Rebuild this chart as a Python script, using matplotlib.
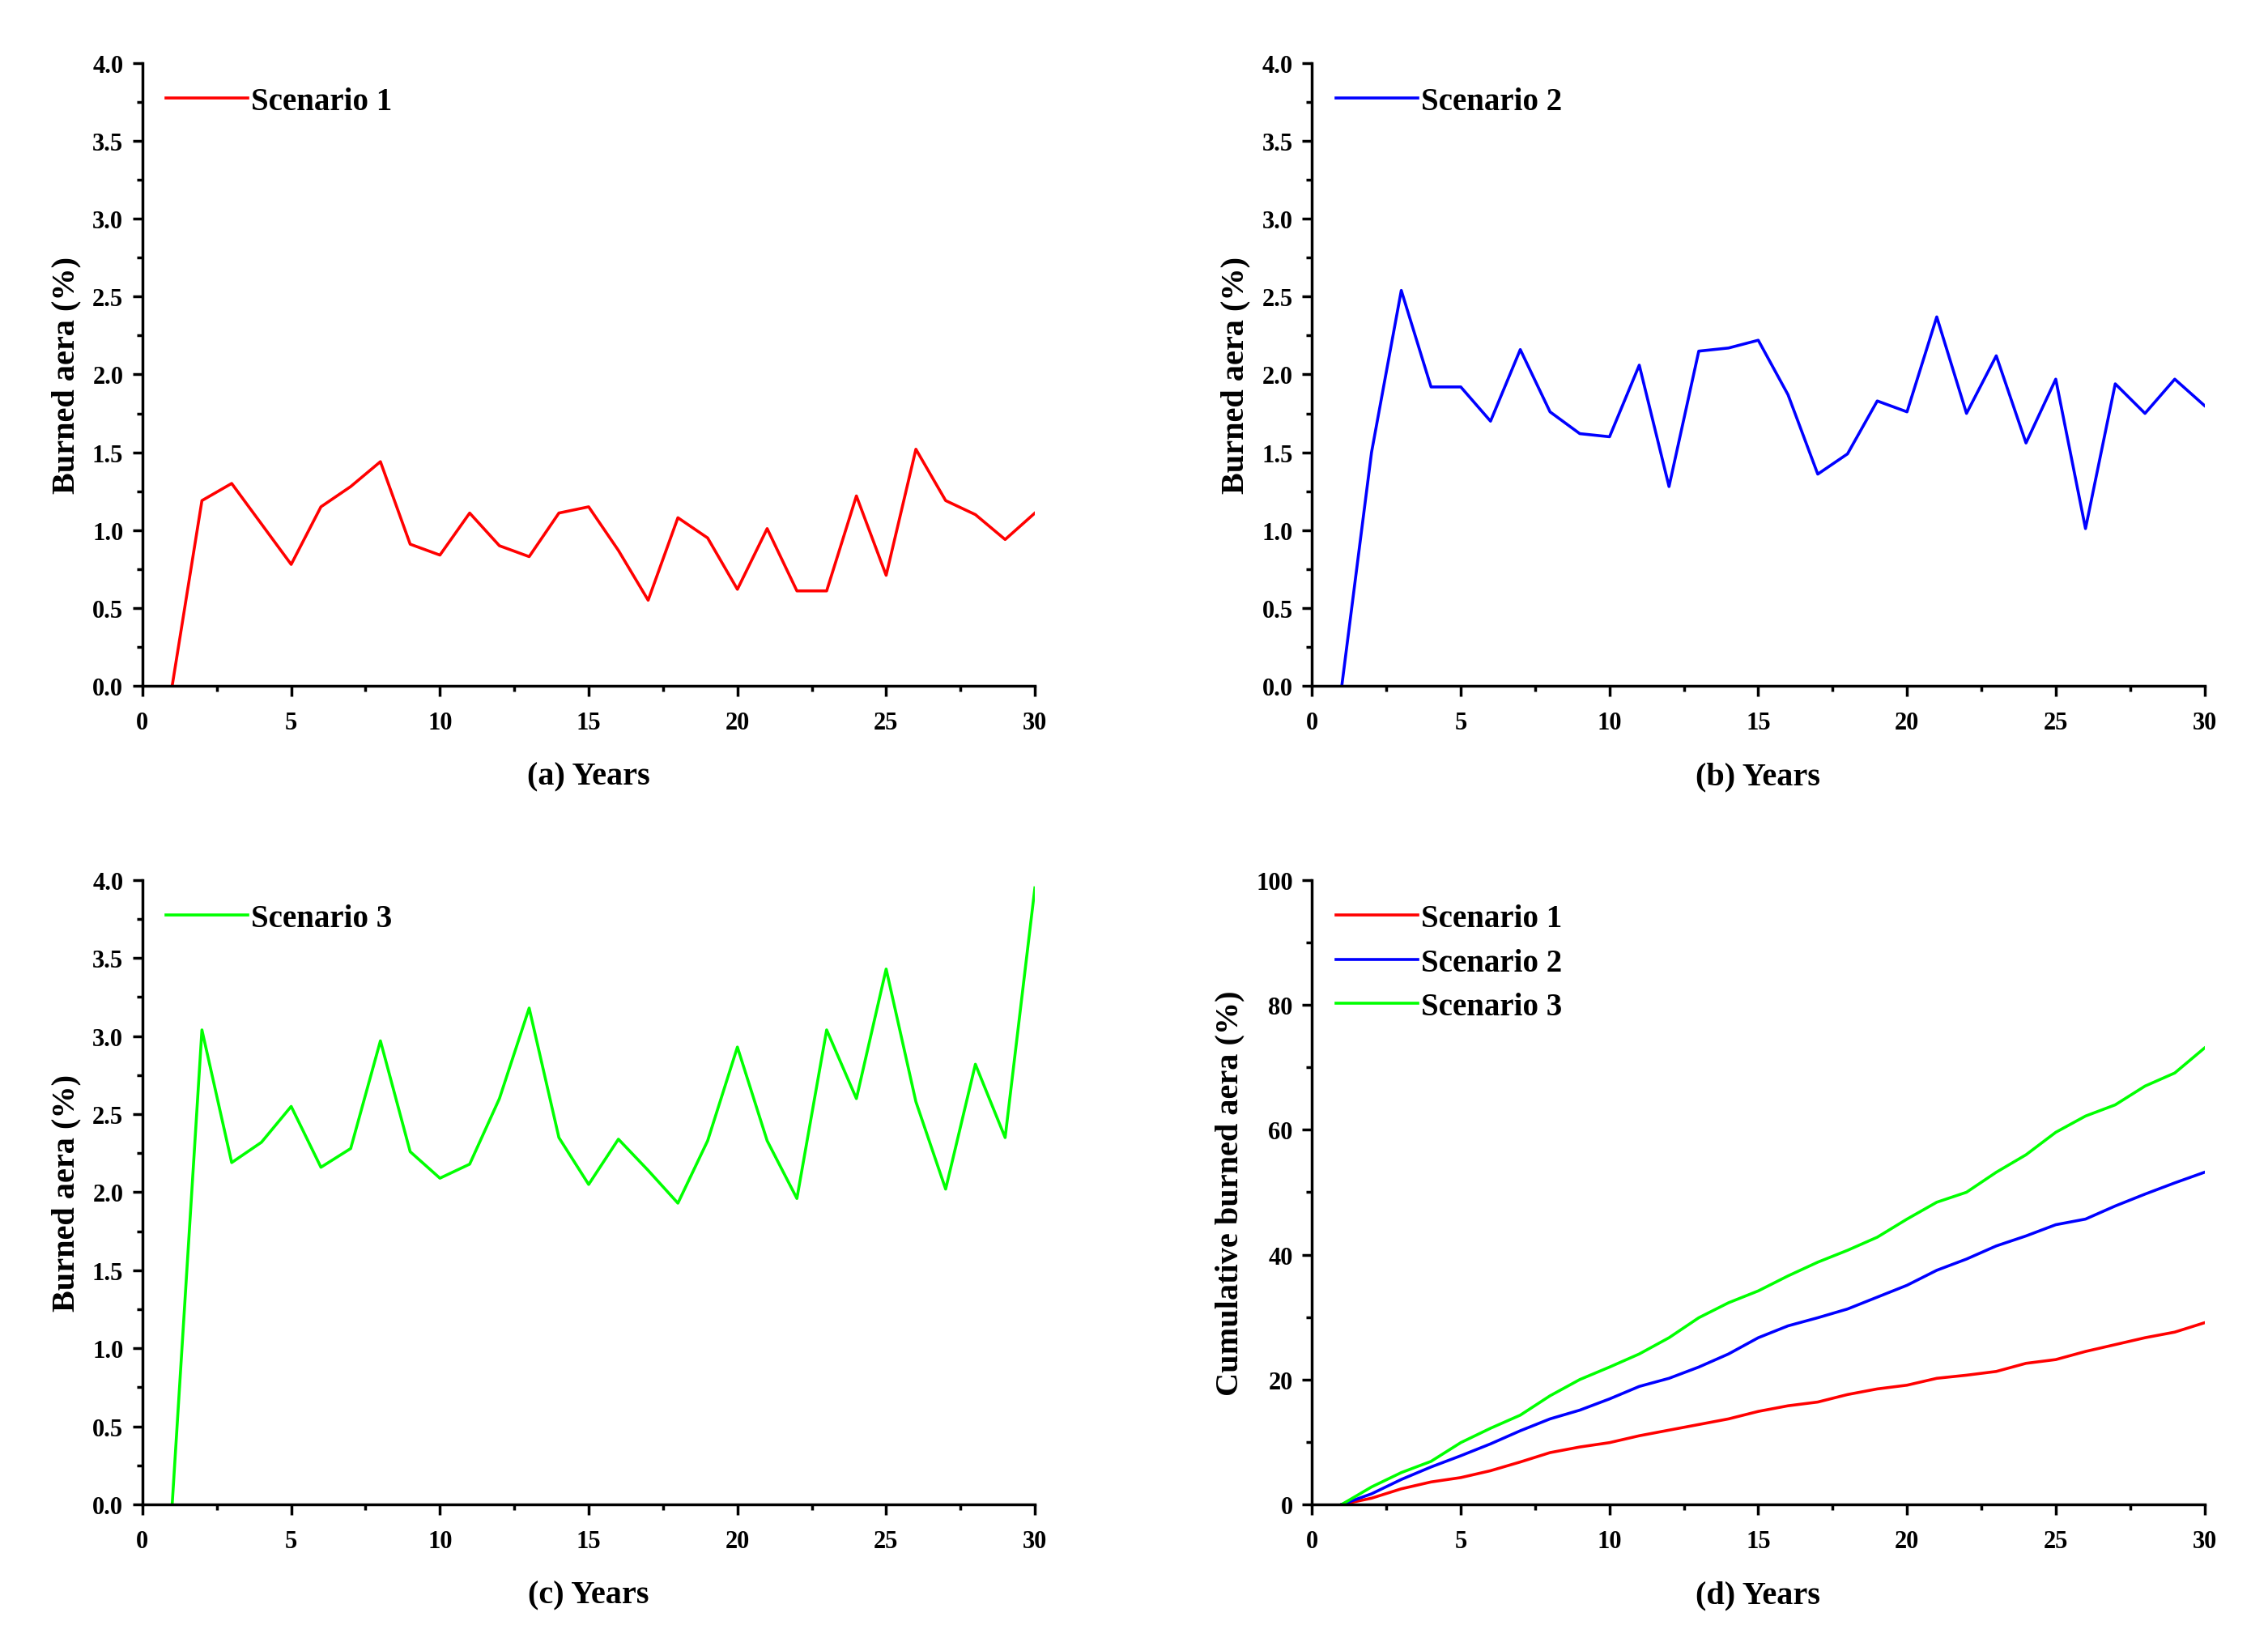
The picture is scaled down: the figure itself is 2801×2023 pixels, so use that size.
import matplotlib
matplotlib.use('Agg')
import matplotlib.pyplot as plt
from matplotlib.ticker import MultipleLocator, FormatStrFormatter

plt.rcParams['font.family'] = ['Liberation Serif', 'DejaVu Serif']
plt.rcParams['font.weight'] = 'bold'

# years 1..30
years = list(range(1, 31))

# annual burned area (%) per scenario
s1 = [0.0, 1.19, 1.30, 1.04, 0.78, 1.15, 1.28, 1.44, 0.91, 0.84,
      1.11, 0.90, 0.83, 1.11, 1.15, 0.87, 0.55, 1.08, 0.95, 0.62,
      1.01, 0.61, 0.61, 1.22, 0.71, 1.52, 1.19, 1.10, 0.94, 1.11]
s2 = [0.0, 1.50, 2.54, 1.92, 1.92, 1.70, 2.16, 1.76, 1.62, 1.60,
      2.06, 1.28, 2.15, 2.17, 2.22, 1.87, 1.36, 1.49, 1.83, 1.76,
      2.37, 1.75, 2.12, 1.56, 1.97, 1.01, 1.94, 1.75, 1.97, 1.80]
s3 = [0.0, 3.04, 2.19, 2.32, 2.55, 2.16, 2.28, 2.97, 2.26, 2.09,
      2.18, 2.60, 3.18, 2.35, 2.05, 2.34, 2.14, 1.93, 2.33, 2.93,
      2.33, 1.96, 3.04, 2.60, 3.43, 2.58, 2.02, 2.82, 2.35, 3.95]

# cumulative burned area (%)
c1 = [0.0, 1.0, 2.5, 3.6, 4.3, 5.4, 6.8, 8.3, 9.2, 9.9,
      11.0, 11.9, 12.8, 13.7, 14.9, 15.8, 16.4, 17.6, 18.5, 19.1,
      20.2, 20.7, 21.3, 22.6, 23.2, 24.5, 25.6, 26.7, 27.6, 29.1]
c2 = [0.0, 1.7, 4.0, 6.0, 7.8, 9.7, 11.8, 13.7, 15.1, 16.9,
      18.9, 20.2, 22.0, 24.1, 26.7, 28.6, 29.9, 31.3, 33.2, 35.1,
      37.5, 39.3, 41.4, 43.0, 44.8, 45.7, 47.8, 49.7, 51.5, 53.2]
c3 = [0.0, 2.8, 5.1, 6.9, 9.9, 12.2, 14.3, 17.4, 20.0, 22.0,
      24.1, 26.7, 29.9, 32.3, 34.2, 36.6, 38.8, 40.7, 42.8, 45.7,
      48.4, 50.0, 53.2, 56.0, 59.6, 62.2, 64.0, 67.0, 69.1, 73.1]

names = ['Scenario 1', 'Scenario 2', 'Scenario 3']
colors = ['#FF0000', '#0000FF', '#00FF00']

fig = plt.figure(figsize=(28.01, 20.24), dpi=100)
ax_a = fig.add_axes([0.0628, 0.581, 0.3935, 0.380])
ax_b = fig.add_axes([0.5785, 0.581, 0.3935, 0.380])
ax_c = fig.add_axes([0.0628, 0.0815, 0.3935, 0.381])
ax_d = fig.add_axes([0.5785, 0.0815, 0.3935, 0.381])


def style(ax, xlabel, ylabel, ymax, ymaj, ymin, fmt):
    for s in ['top', 'right']:
        ax.spines[s].set_visible(False)
    for s in ['left', 'bottom']:
        ax.spines[s].set_linewidth(2.5)
    ax.set_xlim(0, 30)
    ax.set_ylim(0, ymax)
    ax.xaxis.set_major_locator(MultipleLocator(5))
    ax.xaxis.set_minor_locator(MultipleLocator(2.5))
    ax.yaxis.set_major_locator(MultipleLocator(ymaj))
    ax.yaxis.set_minor_locator(MultipleLocator(ymin))
    ax.yaxis.set_major_formatter(FormatStrFormatter(fmt))
    ax.tick_params(which='major', direction='out', length=9, width=2.5,
                   labelsize=22, pad=8)
    ax.tick_params(axis='x', which='major', pad=13)
    ax.tick_params(which='minor', direction='out', length=5, width=2.5)
    for lab in ax.get_xticklabels() + ax.get_yticklabels():
        lab.set_fontweight('bold')
    ax.set_xlabel(xlabel, fontsize=29, fontweight='bold', labelpad=24)
    ax.set_ylabel(ylabel, fontsize=29, fontweight='bold', labelpad=10)
    ax.legend(loc='upper left', frameon=False, handlelength=2.6,
              handletextpad=0.1, borderaxespad=0.35, labelspacing=0.45,
              prop={'weight': 'bold', 'size': 28})


ax_a.plot(years, s1, color=colors[0], lw=2.6, label=names[0])
style(ax_a, '(a) Years', 'Burned aera (%)', 4.0, 0.5, 0.25, '%.1f')

ax_b.plot(years, s2, color=colors[1], lw=2.6, label=names[1])
style(ax_b, '(b) Years', 'Burned aera (%)', 4.0, 0.5, 0.25, '%.1f')

ax_c.plot(years, s3, color=colors[2], lw=2.6, label=names[2])
style(ax_c, '(c) Years', 'Burned aera (%)', 4.0, 0.5, 0.25, '%.1f')

for vals, col, nm in zip([c1, c2, c3], colors, names):
    ax_d.plot(years, vals, color=col, lw=2.6, label=nm)
style(ax_d, '(d) Years', 'Cumulative burned aera (%)', 100, 20, 10, '%d')

fig.savefig('out.png', dpi=100)
